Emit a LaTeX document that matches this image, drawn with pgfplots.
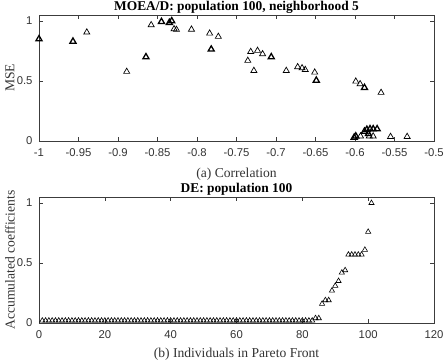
\documentclass[border=0pt]{standalone}
\usepackage{pgfplots}
\pgfplotsset{compat=1.18}
\usepackage{fontspec}
\setmainfont{Liberation Serif}
\newfontfamily\arial{Liberation Sans}
\definecolor{axgray}{RGB}{60,60,60}
\pgfplotsset{
  mystyle/.style={
    scale only axis, width=395pt, height=126pt,
    axis line style={axgray, line width=0.5pt},
    tick style={axgray, line width=0.5pt},
    tick align=inside, major tick length=4pt,
    /pgf/number format/assume math mode=true,
    tick label style={font=\arial\fontsize{11.3}{12}\selectfont, text=black!80},
    xticklabel style={yshift=-4pt},
    yticklabel style={xshift=-3pt, /pgf/number format/fixed},
    title style={at={(axis description cs:0.5,1)}, anchor=base, yshift=-1pt, font=\bfseries\fontsize{13.4}{15}\selectfont},
    label style={font=\fontsize{13.6}{15}\selectfont, text=black!80},
    ylabel style={at={(axis description cs:-0.0734,0.5)}, anchor=center},
    ymin=0, ymax=1.05, ytick={0,0.5,1},
  }
}
\begin{document}
\begin{tikzpicture}
\path[use as bounding box] (-39pt,-219pt) rectangle (405pt,141pt);
\begin{axis}[mystyle, at={(0,0)}, anchor=south west,
  title={MOEA/D: population 100, neighborhood 5},
  xlabel={(a) Correlation}, ylabel={MSE},
  xlabel style={at={(axis description cs:0.5,0)}, anchor=center, yshift=-33pt},
  xmin=-1, xmax=-0.5,
  xtick={-1,-0.95,-0.9,-0.85,-0.8,-0.75,-0.7,-0.65,-0.6,-0.55,-0.5},
  xticklabel style={/pgf/number format/fixed, /pgf/number format/precision=2},
]
\addplot[only marks, mark=triangle, mark size=3.5pt, mark options={black, line width=0.7pt}] coordinates {
(-0.9395,0.906) (-0.889,0.578) (-0.858,0.967) (-0.829,0.933) (-0.826,0.928)
(-0.807,0.93) (-0.784,0.897) (-0.773,0.87) (-0.7357,0.67) (-0.732,0.744)
(-0.728,0.586) (-0.7234,0.753) (-0.717,0.725) (-0.687,0.586) (-0.6726,0.617)
(-0.667,0.608) (-0.663,0.594) (-0.651,0.572) (-0.599,0.497) (-0.5935,0.475)
(-0.567,0.403) (-0.555,0.036) (-0.534,0.036) (-0.593,0.04) (-0.582,0.04) (-0.577,0.04)
};
\addplot[only marks, mark=triangle, mark size=3.5pt, mark options={black, line width=1.3pt}] coordinates {
(-1.0,0.85) (-0.957,0.83) (-0.8646,0.70) (-0.845,0.994) (-0.835,0.986)
(-0.832,1.0) (-0.782,0.764) (-0.706,0.70) (-0.649,0.505) (-0.588,0.444)
(-0.601,0.03) (-0.599,0.04) (-0.588,0.08) (-0.585,0.095) (-0.581,0.10)
(-0.577,0.10) (-0.572,0.10) (-0.583,0.06)
};
\end{axis}
\begin{axis}[mystyle, at={(0,-182pt)}, anchor=south west,
  title={DE: population 100},
  xlabel={(b) Individuals in Pareto Front}, ylabel={Accumulated coefficients},
  xlabel style={at={(axis description cs:0.5,0)}, anchor=center, yshift=-31pt},
  xmin=0, xmax=120, xtick={0,20,40,60,80,100,120},
]
\addplot[only marks, mark=triangle, mark size=3pt, mark options={black, line width=0.6pt}] coordinates {
(1,0.02) (2,0.02) (3,0.02) (4,0.02) (5,0.02) (6,0.02) (7,0.02) (8,0.02) (9,0.02) (10,0.02)
(11,0.02) (12,0.02) (13,0.02) (14,0.02) (15,0.02) (16,0.02) (17,0.02) (18,0.02) (19,0.02) (20,0.02)
(21,0.02) (22,0.02) (23,0.02) (24,0.02) (25,0.02) (26,0.02) (27,0.02) (28,0.02) (29,0.02) (30,0.02)
(31,0.02) (32,0.02) (33,0.02) (34,0.02) (35,0.02) (36,0.02) (37,0.02) (38,0.02) (39,0.02) (40,0.02)
(41,0.02) (42,0.02) (43,0.02) (44,0.02) (45,0.02) (46,0.02) (47,0.02) (48,0.02) (49,0.02) (50,0.02)
(51,0.02) (52,0.02) (53,0.02) (54,0.02) (55,0.02) (56,0.02) (57,0.02) (58,0.02) (59,0.02) (60,0.02)
(61,0.02) (62,0.02) (63,0.02) (64,0.02) (65,0.02) (66,0.02) (67,0.02) (68,0.02) (69,0.02) (70,0.02)
(71,0.02) (72,0.02) (73,0.02) (74,0.02) (75,0.02) (76,0.02) (77,0.02) (78,0.02) (79,0.02) (80,0.02)
(81,0.02) (82,0.02) (83,0.02)
(84,0.04) (85,0.04) (86,0.16) (87,0.19) (88,0.19) (89,0.27) (90,0.31) (91,0.35) (92,0.42) (93,0.44)
(94,0.57) (95,0.57) (96,0.57) (97,0.57) (98,0.57) (99,0.61) (100,0.76) (101,1.0)
};
\end{axis}
\end{tikzpicture}
\end{document}
